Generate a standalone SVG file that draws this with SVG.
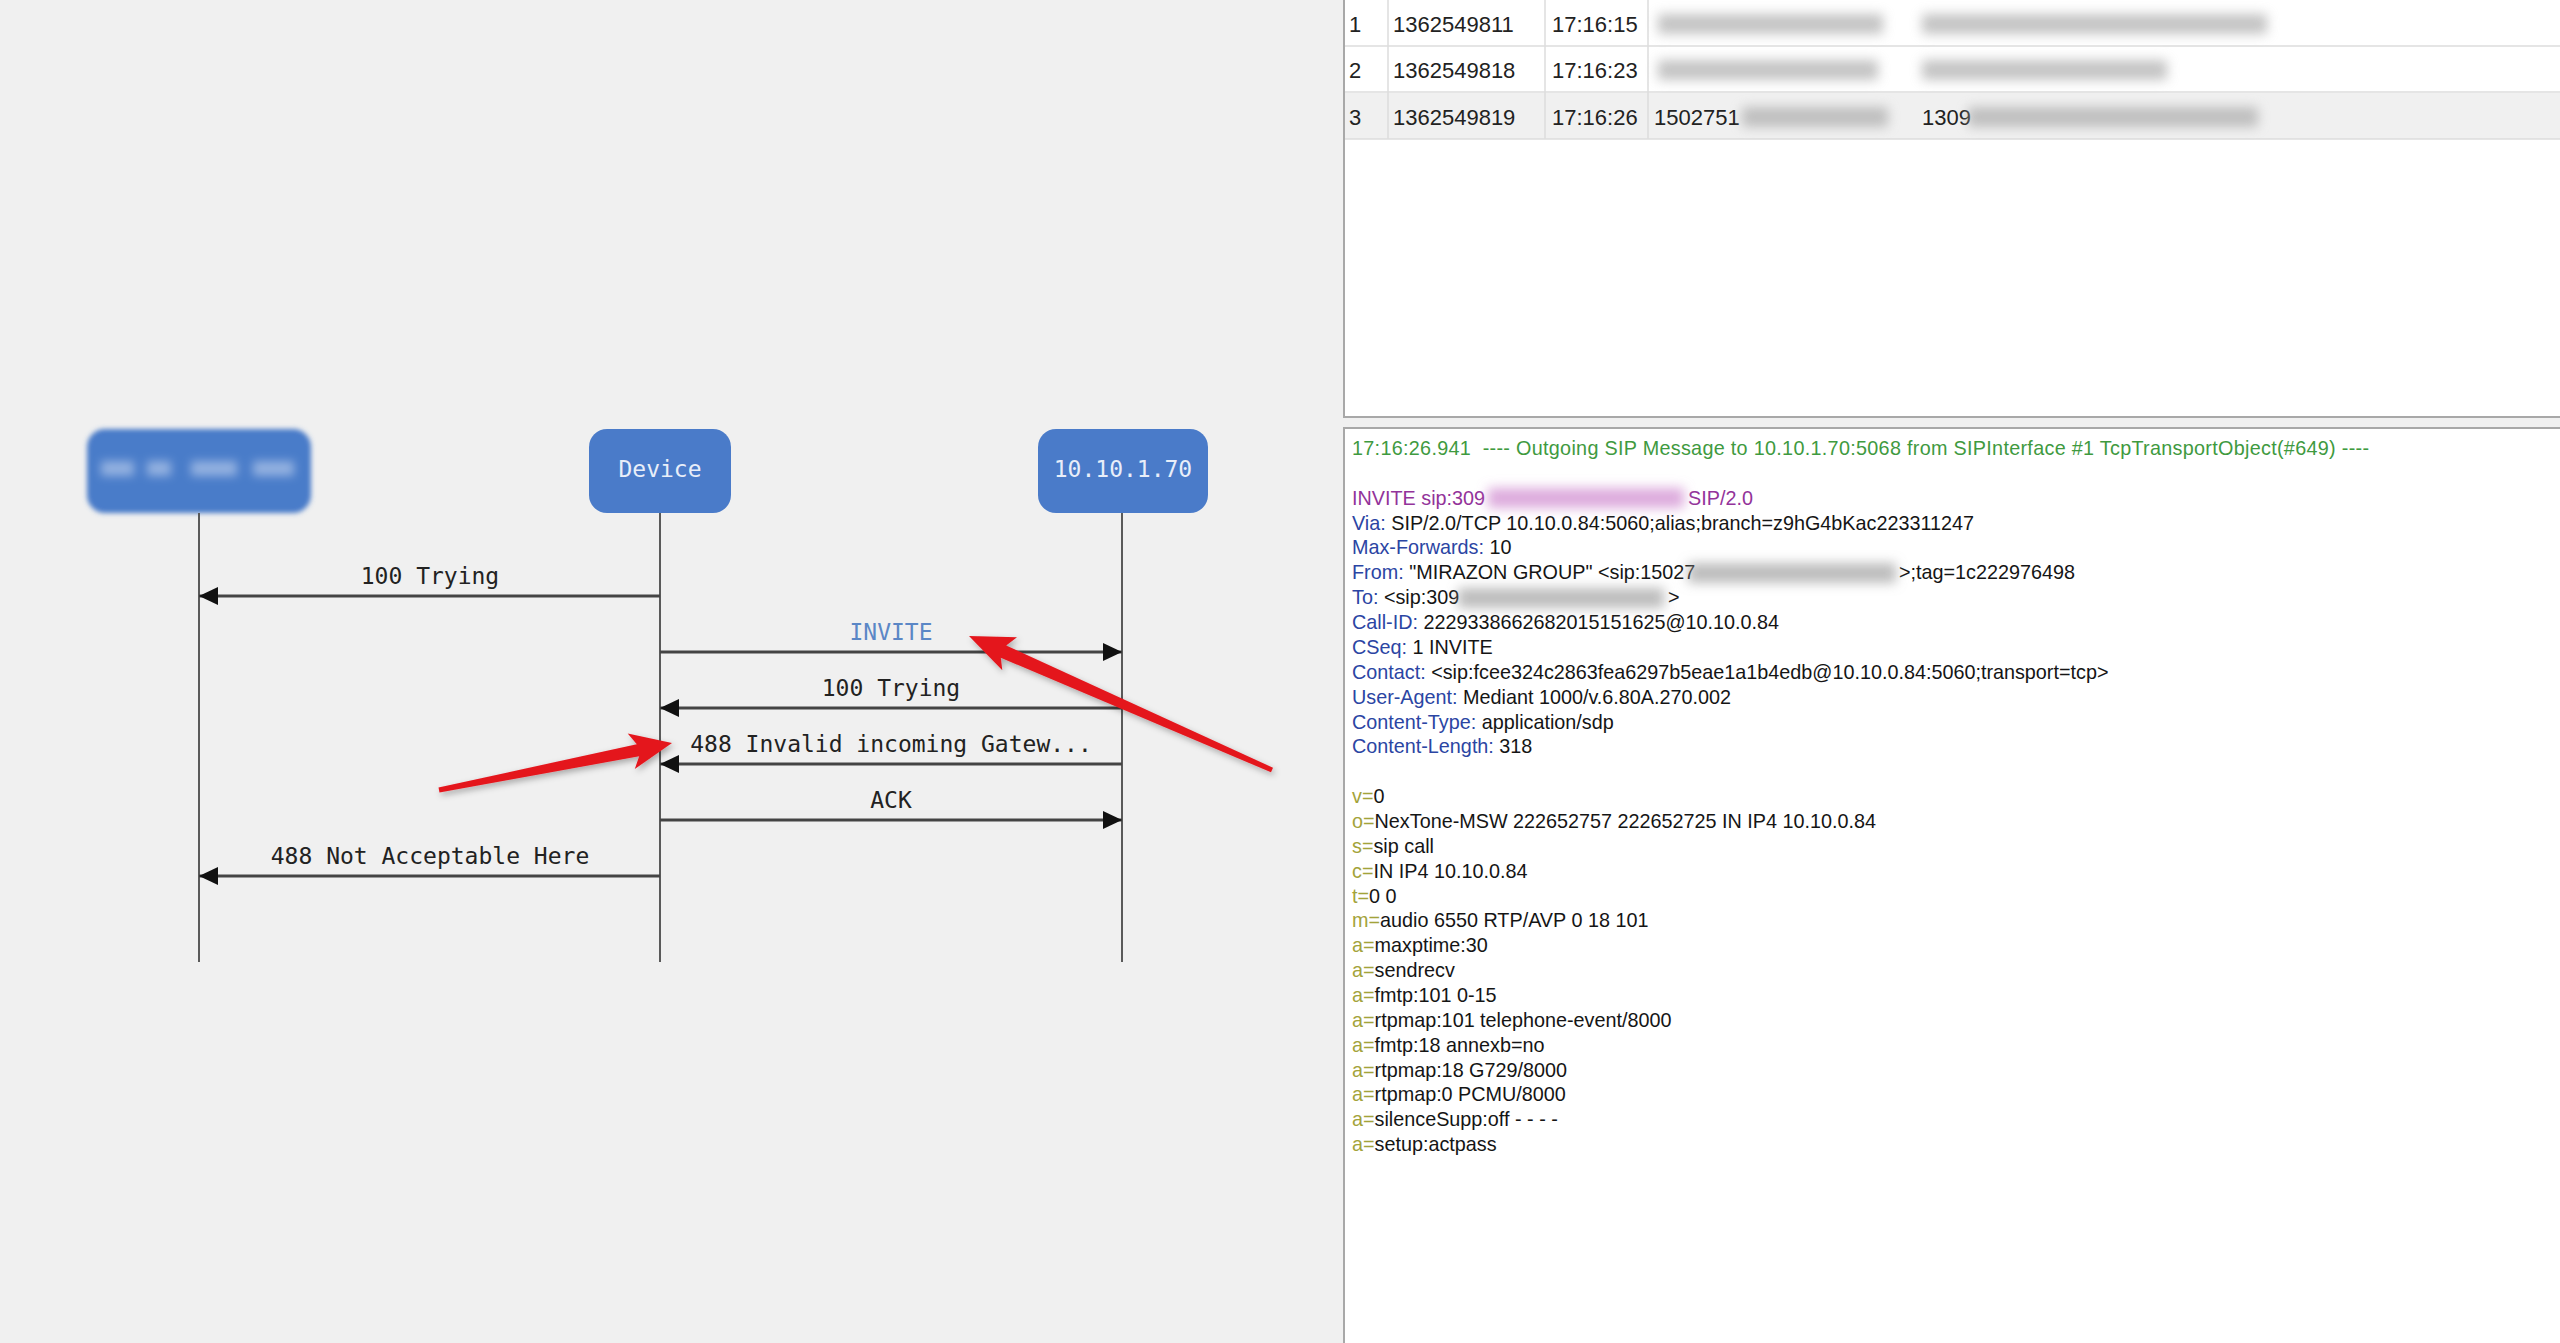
<svg xmlns="http://www.w3.org/2000/svg" width="2560" height="1343" viewBox="0 0 2560 1343">
<style>
.nlabel{font-family:"DejaVu Sans Mono",monospace;font-size:23px;fill:#e8eef9;text-anchor:middle}
.node rect.box{fill:#4a7bc9}
.node rect.smudge{fill:#dde6f8}
.life{stroke:#5a5a5a;stroke-width:2}
.msg{stroke:#444;stroke-width:3;fill:none}
.mlabel{font-family:"DejaVu Sans Mono",monospace;font-size:23px;fill:#222;text-anchor:middle}
.tbl{font-family:"Liberation Sans",Arial,sans-serif;font-size:22px;fill:#222}
.log{font-family:"Liberation Sans",Arial,sans-serif;font-size:19.8px;fill:#151515}
.k{fill:#2b45a3}
.sdp{fill:#a3a33a}
.red{fill:#e4161e}
.grid{stroke:#dcdcdc;stroke-width:1.5}
</style>
<defs>
<marker id="ah" markerWidth="20" markerHeight="18" refX="19" refY="9" orient="auto" markerUnits="userSpaceOnUse"><path d="M0,0 L19,9 L0,18 Z" fill="#111"/></marker>
<filter id="blur6" x="-30%" y="-100%" width="160%" height="300%"><feGaussianBlur stdDeviation="6"/></filter>
<filter id="blur5" x="-50%" y="-150%" width="200%" height="400%"><feGaussianBlur stdDeviation="5"/></filter>
<filter id="blur3" x="-10%" y="-20%" width="120%" height="140%"><feGaussianBlur stdDeviation="2.5"/></filter>
<filter id="shadow" x="-20%" y="-50%" width="140%" height="200%"><feDropShadow dx="2" dy="3" stdDeviation="3" flood-color="#000" flood-opacity="0.3"/></filter>
</defs>
<rect x="0" y="0" width="2560" height="1343" fill="#f0f0f0"/>

<!-- Right panels -->
<g id="table-panel">
<rect x="1344" y="-2" width="1230" height="419" fill="#ffffff" stroke="#a8a8a8" stroke-width="2"/>
<rect x="1345" y="93" width="1215" height="46" fill="#f0f0f0"/>
<line class="grid" x1="1345" y1="46" x2="2560" y2="46"/>
<line class="grid" x1="1345" y1="92" x2="2560" y2="92"/>
<line class="grid" x1="1345" y1="139" x2="2560" y2="139"/>
<line class="grid" x1="1388" y1="0" x2="1388" y2="139"/>
<line class="grid" x1="1545" y1="0" x2="1545" y2="139"/>
<line class="grid" x1="1648" y1="0" x2="1648" y2="139"/>
<g class="tbl">
<text x="1349" y="32">1</text><text x="1393" y="32">1362549811</text><text x="1552" y="32">17:16:15</text>
<text x="1349" y="78">2</text><text x="1393" y="78">1362549818</text><text x="1552" y="78">17:16:23</text>
<text x="1349" y="125">3</text><text x="1393" y="125">1362549819</text><text x="1552" y="125">17:16:26</text>
<text x="1654" y="125">1502751</text><text x="1922" y="125">1309</text>
</g>
<g filter="url(#blur6)" fill="#a5a5a5" opacity="0.65">
<rect x="1658" y="14" width="225" height="20"/>
<rect x="1922" y="14" width="345" height="20"/>
<rect x="1658" y="60" width="220" height="20"/>
<rect x="1922" y="60" width="245" height="20"/>
<rect x="1742" y="107" width="146" height="20"/>
<rect x="1968" y="107" width="290" height="20"/>
</g>
</g>

<g id="message-panel">
<rect x="1344" y="428" width="1230" height="925" fill="#ffffff" stroke="#a8a8a8" stroke-width="2"/>
<g class="log">
<text x="1352" y="455" fill="#3f9a3f" xml:space="preserve" textLength="1017" lengthAdjust="spacing">17:16:26.941  ---- Outgoing SIP Message to 10.10.1.70:5068 from SIPInterface #1 TcpTransportObject(#649) ----</text>
<text x="1352" y="504.7" fill="#93339a">INVITE sip:309</text>
<text x="1688" y="504.7" fill="#93339a">SIP/2.0</text>
<text x="1352" y="529.6"><tspan class="k">Via:</tspan> SIP/2.0/TCP 10.10.0.84:5060;alias;branch=z9hG4bKac223311247</text>
<text x="1352" y="554.4"><tspan class="k">Max-Forwards:</tspan> 10</text>
<text x="1352" y="579.3"><tspan class="k">From:</tspan> "MIRAZON GROUP" &lt;sip:15027</text>
<text x="1899" y="579.3">&gt;;tag=1c222976498</text>
<text x="1352" y="604.2"><tspan class="k">To:</tspan> &lt;sip:309</text>
<text x="1668" y="604.2">&gt;</text>
<text x="1352" y="629.0"><tspan class="k">Call-ID:</tspan> 2229338662682015151625@10.10.0.84</text>
<text x="1352" y="653.9"><tspan class="k">CSeq:</tspan> 1 INVITE</text>
<text x="1352" y="678.8"><tspan class="k">Contact:</tspan> &lt;sip:fcee324c2863fea6297b5eae1a1b4edb@10.10.0.84:5060;transport=tcp&gt;</text>
<text x="1352" y="703.6"><tspan class="k">User-Agent:</tspan> Mediant 1000/v.6.80A.270.002</text>
<text x="1352" y="728.5"><tspan class="k">Content-Type:</tspan> application/sdp</text>
<text x="1352" y="753.4"><tspan class="k">Content-Length:</tspan> 318</text>
<text x="1352" y="803.0"><tspan class="sdp">v=</tspan>0</text>
<text x="1352" y="827.9"><tspan class="sdp">o=</tspan>NexTone-MSW 222652757 222652725 IN IP4 10.10.0.84</text>
<text x="1352" y="852.8"><tspan class="sdp">s=</tspan>sip call</text>
<text x="1352" y="877.6"><tspan class="sdp">c=</tspan>IN IP4 10.10.0.84</text>
<text x="1352" y="902.5"><tspan class="sdp">t=</tspan>0 0</text>
<text x="1352" y="927.3"><tspan class="sdp">m=</tspan>audio 6550 RTP/AVP 0 18 101</text>
<text x="1352" y="952.2"><tspan class="sdp">a=</tspan>maxptime:30</text>
<text x="1352" y="977.1"><tspan class="sdp">a=</tspan>sendrecv</text>
<text x="1352" y="1001.9"><tspan class="sdp">a=</tspan>fmtp:101 0-15</text>
<text x="1352" y="1026.8"><tspan class="sdp">a=</tspan>rtpmap:101 telephone-event/8000</text>
<text x="1352" y="1051.7"><tspan class="sdp">a=</tspan>fmtp:18 annexb=no</text>
<text x="1352" y="1076.5"><tspan class="sdp">a=</tspan>rtpmap:18 G729/8000</text>
<text x="1352" y="1101.4"><tspan class="sdp">a=</tspan>rtpmap:0 PCMU/8000</text>
<text x="1352" y="1126.3"><tspan class="sdp">a=</tspan>silenceSupp:off - - - -</text>
<text x="1352" y="1151.1"><tspan class="sdp">a=</tspan>setup:actpass</text>
</g>
<g filter="url(#blur6)">
<rect x="1488" y="488" width="196" height="20" fill="#cf86cf" opacity="0.7"/>
<rect x="1688" y="563" width="208" height="20" fill="#9a9a9a" opacity="0.65"/>
<rect x="1458" y="588" width="206" height="20" fill="#9a9a9a" opacity="0.65"/>
</g>
</g>

<!-- Sequence diagram nodes -->
<g id="node-left" class="node">
<rect class="box" x="87" y="429" width="224" height="84" rx="18" filter="url(#blur3)"/>
<g filter="url(#blur5)" opacity="0.5">
<rect class="smudge" x="101" y="461" width="33" height="15"/>
<rect class="smudge" x="147" y="461" width="24" height="15"/>
<rect class="smudge" x="191" y="461" width="46" height="15"/>
<rect class="smudge" x="253" y="461" width="41" height="15"/>
</g>
</g>
<g id="node-device" class="node">
<rect class="box" x="589" y="429" width="142" height="84" rx="18"/>
<text class="nlabel" x="660" y="477">Device</text>
</g>
<g id="node-gateway" class="node">
<rect class="box" x="1038" y="429" width="170" height="84" rx="18"/>
<text class="nlabel" x="1123" y="477">10.10.1.70</text>
</g>

<g id="connectors">
<line class="life" x1="199" y1="513" x2="199" y2="962"/>
<line class="life" x1="660" y1="513" x2="660" y2="962"/>
<line class="life" x1="1122" y1="513" x2="1122" y2="962"/>
<line class="msg" x1="660" y1="596" x2="199" y2="596" marker-end="url(#ah)"/>
<line class="msg" x1="660" y1="652" x2="1122" y2="652" marker-end="url(#ah)"/>
<line class="msg" x1="1122" y1="708" x2="660" y2="708" marker-end="url(#ah)"/>
<line class="msg" x1="1122" y1="764" x2="660" y2="764" marker-end="url(#ah)"/>
<line class="msg" x1="660" y1="820" x2="1122" y2="820" marker-end="url(#ah)"/>
<line class="msg" x1="660" y1="876" x2="199" y2="876" marker-end="url(#ah)"/>
<text class="mlabel" x="430" y="584">100 Trying</text>
<text class="mlabel" x="891" y="640" style="fill:#5b87c6">INVITE</text>
<text class="mlabel" x="891" y="696">100 Trying</text>
<text class="mlabel" x="891" y="752">488 Invalid incoming Gatew...</text>
<text class="mlabel" x="891" y="808">ACK</text>
<text class="mlabel" x="430" y="864">488 Not Acceptable Here</text>
</g>

<!-- Red annotation arrows -->
<g id="annotations" filter="url(#shadow)">
<polygon class="red" points="969,636 1017.0,637.3 1006.2,645.4 1273.0,767.7 1271.0,772.3 1000.8,657.7 1002.3,670.2"/>
<polygon class="red" points="672,743 634.8,769.0 639.2,756.2 439.5,792.5 438.5,787.5 636.8,744.2 627.7,733.4"/>
</g>
</svg>
